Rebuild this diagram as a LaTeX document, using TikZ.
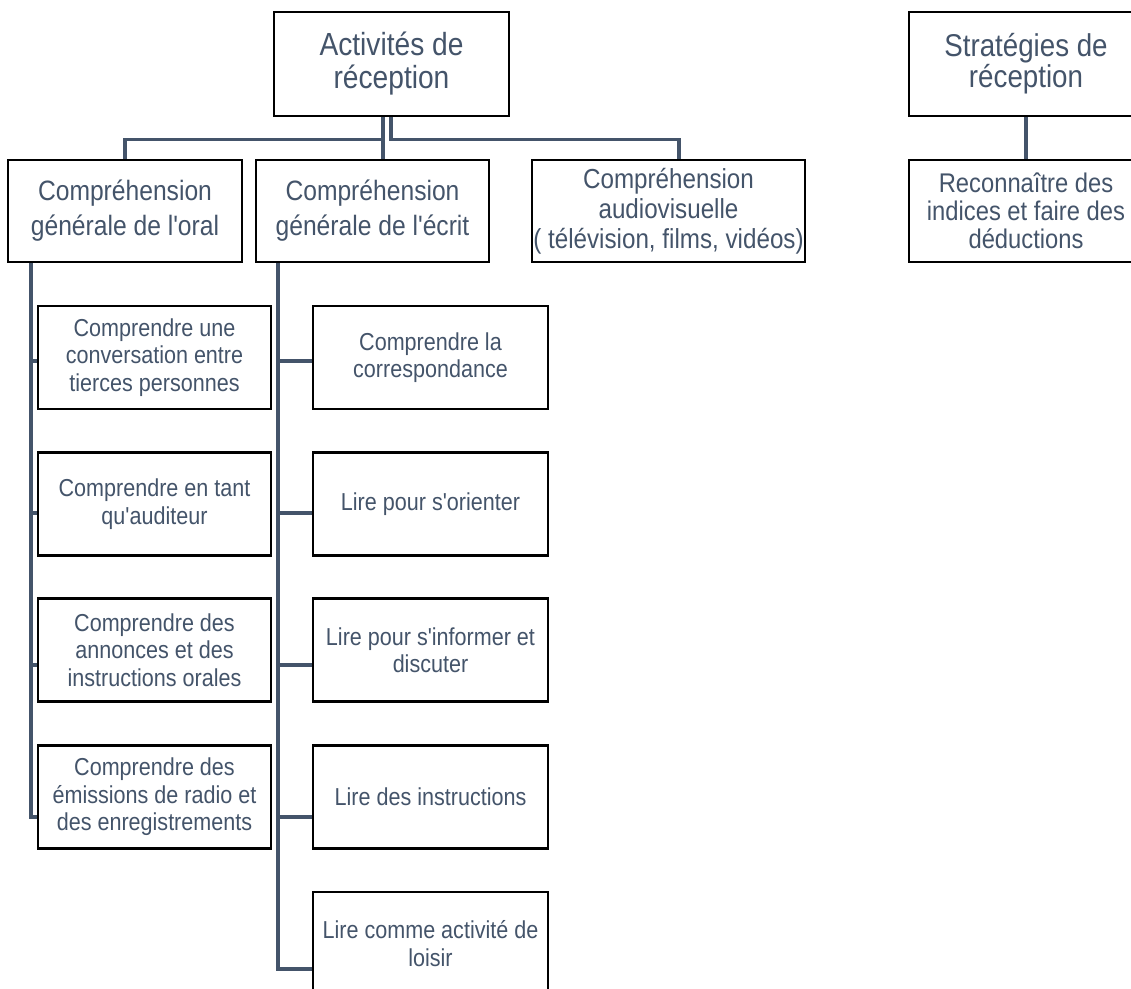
\documentclass[tikz,border=0pt]{standalone}
\usepackage{fontspec}
\newfontfamily\lsans{Liberation Sans}[FakeStretch=0.88]
\definecolor{txt}{HTML}{44546A}
\begin{document}
\begin{tikzpicture}[x=1pt,y=-1pt,
  box/.style={draw=black,line width=2.2pt,fill=white,inner sep=0pt,align=center,text=txt},
  lvlA/.style={box,minimum width=235pt,minimum height=104pt,font=\lsans\fontsize{32}{33}\selectfont},
  lvlB/.style={box,minimum height=102pt,font=\lsans\fontsize{28}{35}\selectfont},
  lvlC/.style={box,minimum height=103pt,font=\lsans\fontsize{24.5}{27.5}\selectfont},
  conn/.style={draw=txt,line width=3.2pt}]
\useasboundingbox (0,0) rectangle (1131,988);
% top level
\node[lvlA] (top) at (391.5,64) {Activités de\\réception};
\node[lvlA,minimum width=234pt,font=\lsans\fontsize{31.5}{31}\selectfont] (strat) at (1026,64) {Stratégies de\\réception};
% second level
\node[lvlB,minimum width=234pt] (oral) at (125,211) {Compréhension\\générale de l'oral};
\node[lvlB,minimum width=233pt] (ecrit) at (372.5,211) {Compréhension\\générale de l'écrit};
\node[lvlB,minimum width=273pt,font=\lsans\fontsize{27.5}{30}\selectfont] (av) at (668.5,211) {Compréhension\\audiovisuelle\\( télévision, films, vidéos)};
\node[lvlB,minimum width=234pt,font=\lsans\fontsize{27}{28}\selectfont] (rec) at (1026,211) {Reconnaître des\\indices et faire des\\déductions};
% third level, oral
\node[lvlC,minimum width=233pt] (o1) at (154.5,357.5) {Comprendre une\\conversation entre\\tierces personnes};
\node[lvlC,minimum width=233pt] (o2) at (154.5,504) {Comprendre en tant\\qu'auditeur};
\node[lvlC,minimum width=233pt] (o3) at (154.5,650) {Comprendre des\\annonces et des\\instructions orales};
\node[lvlC,minimum width=233pt] (o4) at (154.5,797) {Comprendre des\\émissions de radio et\\des enregistrements};
% third level, ecrit
\node[lvlC,minimum width=235pt] (e1) at (430.5,357.5) {Comprendre la\\correspondance};
\node[lvlC,minimum width=235pt] (e2) at (430.5,504) {Lire pour s'orienter};
\node[lvlC,minimum width=235pt] (e3) at (430.5,650) {Lire pour s'informer et\\discuter};
\node[lvlC,minimum width=235pt] (e4) at (430.5,797) {Lire des instructions};
\node[lvlC,minimum width=235pt] (e5) at (430.5,943.5) {Lire comme activité de\\loisir};
% connectors top level
\draw[conn] ([xshift=-8.5pt]top.south) -- ([xshift=-8.5pt]top.south |- ecrit.north);
\draw[conn] ([xshift=-8.5pt]top.south) -- ++(0,22) -| (oral.north);
\draw[conn] ([xshift=-0.5pt]top.south) -- ++(0,22) -| ([xshift=10.5pt]av.north);
\draw[conn] (strat.south) -- (rec.north);
% oral trunk
\draw[conn] ([xshift=24pt]oral.south west) |- ([yshift=-3.5pt]o1.west);
\draw[conn] ([xshift=24pt]oral.south west) |- ([yshift=-9pt]o2.west);
\draw[conn] ([xshift=24pt]oral.south west) |- ([yshift=-15pt]o3.west);
\draw[conn] ([xshift=24pt]oral.south west) |- ([yshift=-20pt]o4.west);
% ecrit trunk
\draw[conn] ([xshift=23pt]ecrit.south west) |- ([yshift=-3.5pt]e1.west);
\draw[conn] ([xshift=23pt]ecrit.south west) |- ([yshift=-9pt]e2.west);
\draw[conn] ([xshift=23pt]ecrit.south west) |- ([yshift=-15pt]e3.west);
\draw[conn] ([xshift=23pt]ecrit.south west) |- ([yshift=-20pt]e4.west);
\draw[conn] ([xshift=23pt]ecrit.south west) |- ([yshift=-25.5pt]e5.west);
\end{tikzpicture}
\end{document}
